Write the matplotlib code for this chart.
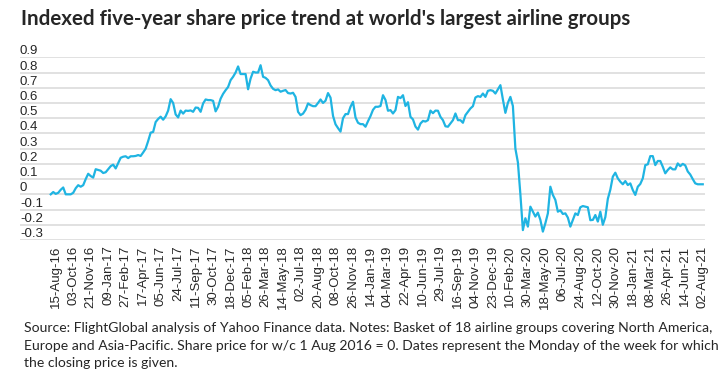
import matplotlib
matplotlib.use("Agg")
import matplotlib.pyplot as plt
import numpy as np
import pandas as pd

# weekly closing, indexed to w/c 1 Aug 2016 = 0
start_week = "2016-08-01"
index_values = [
    0.0, 0.015, 0.003, 0.01, 0.03, 0.045, 0.0, 0.0, 0.0, 0.01,
    0.04, 0.06, 0.05, 0.06, 0.1, 0.135, 0.12, 0.11, 0.165, 0.16,
    0.155, 0.14, 0.145, 0.165, 0.185, 0.195, 0.17, 0.205, 0.24, 0.247,
    0.25, 0.238, 0.25, 0.25, 0.252, 0.258, 0.252, 0.275, 0.3, 0.35,
    0.405, 0.41, 0.475, 0.495, 0.51, 0.49, 0.512, 0.55, 0.625, 0.6,
    0.525, 0.505, 0.55, 0.53, 0.55, 0.548, 0.551, 0.542, 0.57, 0.568,
    0.542, 0.597, 0.623, 0.619, 0.619, 0.614, 0.545, 0.575, 0.628, 0.66,
    0.684, 0.705, 0.75, 0.772, 0.8, 0.84, 0.79, 0.79, 0.79, 0.69,
    0.76, 0.805, 0.8, 0.8, 0.848, 0.772, 0.765, 0.75, 0.715, 0.693,
    0.684, 0.689, 0.674, 0.68, 0.685, 0.665, 0.662, 0.667, 0.64, 0.542,
    0.52, 0.53, 0.555, 0.597, 0.586, 0.579, 0.579, 0.6, 0.623, 0.6,
    0.615, 0.665, 0.635, 0.515, 0.46, 0.435, 0.412, 0.5, 0.527, 0.527,
    0.575, 0.608, 0.505, 0.47, 0.461, 0.461, 0.444, 0.48, 0.514, 0.555,
    0.575, 0.575, 0.58, 0.651, 0.62, 0.549, 0.553, 0.531, 0.553, 0.64,
    0.632, 0.651, 0.58, 0.605, 0.509, 0.492, 0.445, 0.425, 0.465, 0.482,
    0.478, 0.487, 0.55, 0.533, 0.55, 0.549, 0.509, 0.487, 0.447, 0.444,
    0.466, 0.487, 0.531, 0.487, 0.487, 0.47, 0.52, 0.542, 0.564, 0.579,
    0.636, 0.645, 0.64, 0.662, 0.64, 0.68, 0.684, 0.68, 0.662, 0.689,
    0.717, 0.623, 0.535, 0.601, 0.64, 0.58, 0.3, 0.21, 0.0, -0.235,
    -0.157, -0.212, -0.081, -0.114, -0.146, -0.12, -0.168, -0.245, -0.19, -0.125,
    0.05, -0.004, -0.037, -0.114, -0.105, -0.129, -0.125, -0.153, -0.212, -0.168,
    -0.125, -0.136, -0.085, -0.077, -0.081, -0.085, -0.17, -0.168, -0.136, -0.179,
    -0.114, -0.2, -0.15, -0.03, 0.03, 0.116, 0.142, 0.105, 0.083, 0.066,
    0.087, 0.061, 0.072, 0.028, -0.004, 0.05, 0.068, 0.105, 0.192, 0.197,
    0.251, 0.251, 0.192, 0.219, 0.219, 0.181, 0.138, 0.16, 0.177, 0.164,
    0.164, 0.203, 0.185, 0.2, 0.19, 0.15, 0.13, 0.1, 0.072, 0.066,
    0.066, 0.066,
]
weeks = pd.date_range(start_week, periods=len(index_values), freq="7D")
label_every = 7
first_label = 2  # 15-Aug-16

y_ticks = [0.9, 0.8, 0.7, 0.6, 0.5, 0.4, 0.3, 0.2, 0.1, 0.0, -0.1, -0.2, -0.3]
y_labels = ["0.9", "0.8", "0.7", "0.6", "0.5", "0.4", "0.3", "0.2", "0.1", "0", "-0.1", "-0.2", "-0.3"]

title = "Indexed five-year share price trend at world's largest airline groups"
footnote = ("Source: FlightGlobal analysis of Yahoo Finance data. Notes: Basket of 18 airline groups covering North America,\n"
            "Europe and Asia-Pacific. Share price for w/c 1 Aug 2016 = 0. Dates represent the Monday of the week for which\n"
            "the closing price is given.")

line_color = "#1fb4e2"
grid_color = "#d9d9d9"
text_color = "#262626"

fig = plt.figure(figsize=(7.28, 3.91), dpi=100)
ax = fig.add_axes([20 / 728, 1 - 240 / 391, 685 / 728, (240 - 57.3) / 391])

x = np.arange(len(index_values))
ax.plot(x, index_values, color=line_color, linewidth=1.6, solid_joinstyle="round", zorder=3)

ax.set_ylim(-0.3, 0.9)
ax.set_xlim(-12.3, 261.9)
ax.set_yticks(y_ticks)
ax.set_yticklabels(y_labels)
ax.grid(True, axis="y", color=grid_color, linewidth=1.1)
ax.set_axisbelow(True)
for s in ax.spines.values():
    s.set_visible(False)

tick_pos = x[first_label::label_every]
ax.set_xticks(tick_pos)
ax.set_xticklabels([weeks[i].strftime("%d-%b-%y") for i in tick_pos], rotation=90,
                   fontsize=9.5, color=text_color, family="Liberation Sans")
ax.tick_params(axis="x", length=0, pad=4)
ax.tick_params(axis="y", length=0, pad=0, labelsize=9.5, labelcolor=text_color)
for lab in ax.get_yticklabels():
    lab.set_horizontalalignment("left")
    lab.set_verticalalignment("bottom")
    lab.set_family("Liberation Sans")

fig.text(21 / 728, 1 - 19 / 391, title, fontsize=14.8, fontweight="bold", family="Lato",
         color=text_color, va="center", ha="left")
fig.text(24 / 728, 1 - 322 / 391, footnote, fontsize=10.1, family="Lato",
         color=text_color, va="top", ha="left", linespacing=1.55)

fig.savefig("out.png", dpi=100, facecolor="white")
